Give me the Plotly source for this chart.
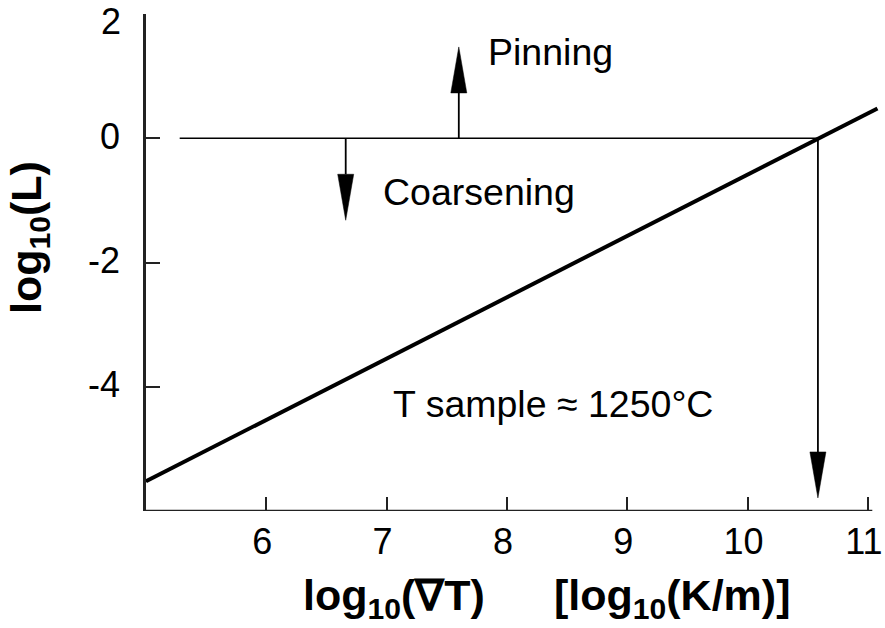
import plotly.graph_objects as go

# ---- data ----
grad_T = [5.0, 11.08]            # log10(grad T)  [log10(K/m)]
log_L = [-5.52, 0.48]            # log10(L)

threshold_y = 0.0
threshold_x = [5.28, 10.585]

arrow_names = ["Pinning", "Coarsening", "Sample"]
arrow_x = [7.6, 6.66, 10.585]
arrow_y0 = [0.0, 0.0, 0.0]
arrow_y1 = [1.47, -1.32, -5.79]

labels = ["Pinning", "Coarsening", "T sample \u2248 1250\u00b0C"]
label_x = [7.83, 6.95, 7.04]
label_y = [1.39, -0.86, -4.28]

x_ticks = [6, 7, 8, 9, 10, 11]
x_tick_text = ["6", "7", "8", "9", "10", "11"]
y_ticks = [-4, -2, 0, 2]
y_tick_text = ["-4", "-2", "0", "2"]
x_range = [5.0, 11.101]
x_axis_end = 11.037
y_range = [-6.0, 2.0]

# ---- layout geometry ----
W, H = 885, 628
ML, MR, MT, MB = 146, 5, 14, 117
pw = W - ML - MR
ph = H - MT - MB
px_per_x = pw / (x_range[1] - x_range[0])
px_per_y = ph / (y_range[1] - y_range[0])

FONT = "Liberation Sans, Arial, Helvetica, sans-serif"
TICK_SIZE = 36
Y_STANDOFF = 16

fig = go.Figure()

# main line
fig.add_trace(go.Scatter(x=grad_T, y=log_L, mode="lines",
                         line=dict(color="black", width=4), hoverinfo="skip"))
# threshold line
fig.add_trace(go.Scatter(x=threshold_x, y=[threshold_y, threshold_y], mode="lines",
                         line=dict(color="black", width=1.6), hoverinfo="skip"))

shapes = []
# x axis line (ends a little past 11)
shapes.append(dict(type="line", xref="x", yref="y", x0=x_range[0], x1=x_axis_end,
                   y0=y_range[0], y1=y_range[0], line=dict(color="#222", width=2.5)))

head_len_px, head_half_px = 46, 8
for ax, y0, y1 in zip(arrow_x, arrow_y0, arrow_y1):
    d = 1 if y1 > y0 else -1
    hl = head_len_px / px_per_y
    hw = head_half_px / px_per_x
    base = y1 - d * hl
    # stem
    fig.add_trace(go.Scatter(x=[ax, ax], y=[y0, base], mode="lines",
                             line=dict(color="black", width=1.8), hoverinfo="skip"))
    # head
    shapes.append(dict(type="path", xref="x", yref="y",
                       path=f"M {ax - hw},{base} L {ax + hw},{base} L {ax},{y1} Z",
                       fillcolor="black", line=dict(color="black", width=0.5)))

annotations = []
for t, lx, ly in zip(labels, label_x, label_y):
    annotations.append(dict(x=lx, y=ly, xref="x", yref="y", text=t, showarrow=False,
                            xanchor="left", yanchor="middle",
                            font=dict(family=FONT, size=37.5, color="black")))

# the top y tick label sits just below its tick (kept inside the page)
top_i = y_ticks.index(max(y_ticks))
annotations.append(dict(x=0, y=y_ticks[top_i], xref="paper", yref="y",
                        text=y_tick_text[top_i], showarrow=False,
                        xanchor="right", yanchor="middle", xshift=-(Y_STANDOFF + 7), yshift=-7,
                        font=dict(family=FONT, size=TICK_SIZE, color="black")))
axis_y_text = [("" if i == top_i else s) for i, s in enumerate(y_tick_text)]

# axis titles
TITLE_SIZE = 43
annotations.append(dict(x=(301 - ML) / pw, y=(H - MB - 598) / ph, xref="paper", yref="paper",
                        text="<b>log<sub>10</sub>(\u2207T)</b>", showarrow=False,
                        xanchor="left", yanchor="middle",
                        font=dict(family=FONT, size=TITLE_SIZE, color="black")))
annotations.append(dict(x=(552 - ML) / pw, y=(H - MB - 598) / ph, xref="paper", yref="paper",
                        text="<b>[log<sub>10</sub>(K/m)]</b>", showarrow=False,
                        xanchor="left", yanchor="middle",
                        font=dict(family=FONT, size=TITLE_SIZE, color="black")))
annotations.append(dict(x=(29 - ML) / pw, y=(H - MB - 238) / ph, xref="paper", yref="paper",
                        text="<b>log<sub>10</sub>(L)</b>", showarrow=False, textangle=-90,
                        xanchor="center", yanchor="middle",
                        font=dict(family=FONT, size=43, color="black")))

fig.update_layout(
    width=W, height=H,
    margin=dict(l=ML, r=MR, t=MT, b=MB, pad=0, autoexpand=False),
    paper_bgcolor="white", plot_bgcolor="white",
    showlegend=False,
    shapes=shapes,
    annotations=annotations,
    font=dict(family=FONT, size=TICK_SIZE, color="black"),
)
fig.update_xaxes(range=x_range, tickvals=x_ticks, ticktext=x_tick_text, automargin=False,
                 ticks="inside", ticklen=14, tickwidth=2,
                 tickcolor="#222", showline=False, showgrid=False, zeroline=False,
                 ticklabeloverflow="allow", ticklabelshift=-4,
                 tickfont=dict(family=FONT, size=TICK_SIZE, color="black"), ticklabelstandoff=6)
fig.update_yaxes(range=y_range, tickvals=y_ticks, ticktext=axis_y_text, automargin=False,
                 ticks="inside", ticklen=14, tickwidth=2,
                 tickcolor="#222", showline=True, linecolor="#222", linewidth=2.5,
                 showgrid=False, zeroline=False, ticklabeloverflow="allow", ticklabelshift=-2,
                 tickfont=dict(family=FONT, size=TICK_SIZE, color="black"),
                 ticklabelstandoff=Y_STANDOFF)

fig.write_html("out.html")
